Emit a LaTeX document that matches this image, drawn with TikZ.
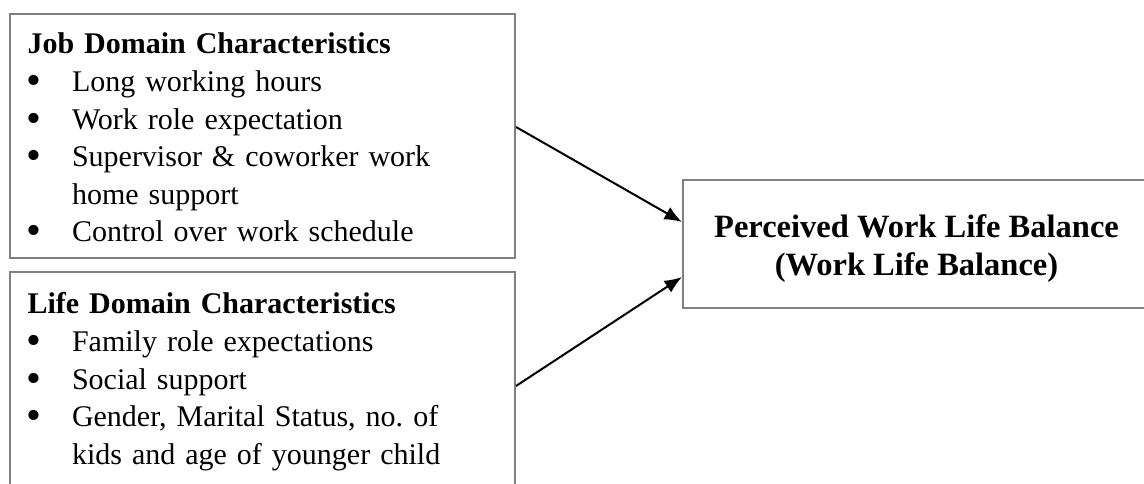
\documentclass[tikz,border=0pt]{standalone}
\usepackage{fontspec}
\setmainfont{Liberation Serif}
\usetikzlibrary{arrows.meta}

\definecolor{boxgray}{HTML}{808080}
\frenchspacing

\newcommand{\blt}{\makebox[17.8pt][l]{\hspace{-0.6pt}\smash{\raisebox{-0.1em}{\fontsize{17pt}{0pt}\selectfont\textbullet}}}}
\newcommand{\hang}{\hspace*{17.8pt}}
\newcommand{\boxhead}[1]{\rule{0pt}{9.6pt}\textbf{#1}}

\tikzset{
  domainbox/.style={draw=boxgray, line width=0.8pt, anchor=north west, align=left,
    text width=188pt, inner xsep=7pt,
    font=\fontsize{12pt}{15.04pt}\selectfont},
  resultbox/.style={draw=boxgray, line width=0.8pt, align=center,
    minimum width=186.8pt, minimum height=51.2pt,
    text height=28pt, text depth=3pt,
    font=\fontsize{13pt}{15.2pt}\selectfont\bfseries},
  arr/.style={-{Latex[length=7pt,width=5.6pt]}, line width=0.8pt},
}

\begin{document}
\begin{tikzpicture}[x=0.4pt, y=-0.4pt]
\useasboundingbox (0,0) rectangle (1144,484);
\clip (0,0) rectangle (1144,484);

% Job domain
\node[domainbox, inner ysep=6.4pt] (job) at (9,13)
{\boxhead{Job Domain Characteristics}\\
\blt Long working hours\\
\blt Work role expectation\\
\blt Supervisor \& coworker work\\
\hang home support\\
\blt Control over work schedule};

% Life domain
\node[domainbox, inner ysep=7.2pt] (life) at (9,271)
{\boxhead{Life Domain Characteristics}\\
\blt Family role expectations\\
\blt Social support\\
\blt Gender, Marital Status, no. of\\
\hang kids and age of younger child};

% Outcome
\node[resultbox] (wlb) at (916.5,244)
{Perceived Work Life Balance\\(Work Life Balance)};

% Arrows
\draw[arr] (job.east |- 0,127) -- (wlb.west |- 0,222);
\draw[arr] (life.east |- 0,386) -- (wlb.west |- 0,277);
\end{tikzpicture}
\end{document}
